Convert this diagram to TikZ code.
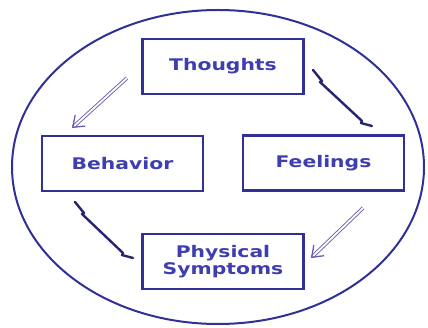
\documentclass[tikz,border=0pt]{standalone}
\usepackage{fontspec}
\setmainfont{DejaVu Sans}
\usetikzlibrary{arrows.meta,calc}
\definecolor{boxc}{RGB}{48,48,150}
\definecolor{textc}{RGB}{62,62,175}
\definecolor{arrc}{RGB}{105,95,175}
\definecolor{navy}{RGB}{38,38,110}
\newcommand{\widetxt}[1]{\scalebox{1.27}[1]{#1}}
\tikzset{
  box/.style={draw=boxc, line width=2.2pt, minimum width=161pt, minimum height=55pt,
    inner sep=0pt, font=\bfseries\fontsize{16}{17}\selectfont, text=textc, align=center},
  hollow/.style={draw=arrc, double=white, double distance=1.8pt, line width=0.9pt,
    -{Straight Barb[length=10pt,width=15pt,line width=1.3pt]}},
  solidc/.style={draw=navy, line width=2.4pt, line join=round, line cap=round},
  ring/.style={draw=boxc, line width=2pt}
}
\begin{document}
\begin{tikzpicture}[x=1pt,y=-1pt]
\useasboundingbox (0,0) rectangle (428,328);
\fill[white] (0,0) rectangle (428,328);
\draw[ring] (218,167) ellipse [x radius=206, y radius=157];
\node[box] (th) at (223,66.5) {\widetxt{Thoughts}};
\node[box] (be) at (122.5,163.5) {\widetxt{Behavior}};
\node[box] (fe) at (323.5,163) {\widetxt{Feelings}};
\node[box] (ph) at (223,261.5) {\widetxt{Physical}\\\widetxt{Symptoms}};
% connector ends
\coordinate (a1) at (127,78);
\coordinate (a2) at (72,128);
\coordinate (b1) at (313,70);
\coordinate (b2) at (372,126);
\coordinate (c1) at (75,202);
\coordinate (c2) at (133,258);
\coordinate (d1) at (363,208);
\coordinate (d2) at (311,258);
\draw[hollow] (a1) -- (a2);
\draw[hollow] (d1) -- (d2);
\draw[solidc] (b1) -- ++(9,11) -- ++(-2,1) -- ($(b2)+(-10,-5)$) -- ++(-1,2) -- (b2);
\draw[solidc] (c1) -- ++(9,11) -- ++(-2,1) -- ($(c2)+(-10,-5)$) -- ++(-1,2) -- (c2);
\end{tikzpicture}
\end{document}
